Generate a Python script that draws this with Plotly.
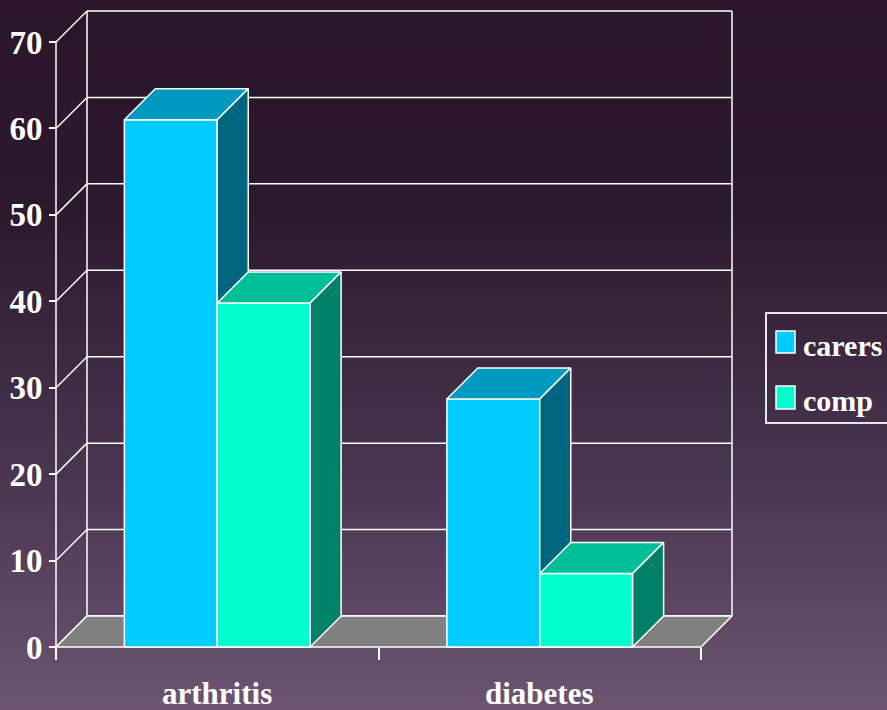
import base64
import struct
import zlib

import plotly.graph_objects as go

# ---------------- data ----------------
categories = ["arthritis", "diabetes"]
series_names = ["carers", "comp"]
carers = [61.0, 28.7]
comp = [39.8, 8.5]
y_ticks = [0, 10, 20, 30, 40, 50, 60, 70]

# ---------------- style ----------------
W, H = 887, 710
FONT = "Liberation Serif"
front_col = {"carers": "#00ccff", "comp": "#00ffcc"}
top_col = {"carers": "#0099c0", "comp": "#00bf99"}
side_col = {"carers": "#00667f", "comp": "#008066"}
floor_col = "#808080"
edge = "white"

# pixel geometry of the pseudo-3D frame
px_left, px_right_front, px_zero, px_top_front = 56, 701, 647, 42
depth_px = 31
ymax = y_ticks[-1]
ncat = len(categories)
px_per_x = (px_right_front - px_left) / ncat
px_per_y = (px_zero - px_top_front) / ymax
dx = depth_px / px_per_x
dy = depth_px / px_per_y
bar_w = 0.288
pad = 4

x_lo = -0.5 - pad / px_per_x
x_hi = ncat - 0.5 + dx + pad / px_per_x
y_lo = -pad / px_per_y
y_hi = ymax + dy + pad / px_per_y
dom_x = [(px_left - pad) / W, (px_left + ncat * px_per_x + depth_px + pad) / W]
dom_y = [(H - (px_zero + pad)) / H, (H - (px_top_front - depth_px - pad)) / H]


# ---------------- background gradient (PNG) ----------------
def grad_png(h, stops):
    def col(t):
        for (t0, c0), (t1, c1) in zip(stops, stops[1:]):
            if t <= t1:
                f = (t - t0) / (t1 - t0) if t1 > t0 else 0
                return bytes(int(round(a + (b - a) * f)) for a, b in zip(c0, c1))
        return bytes(stops[-1][1])

    raw = b"".join(b"\x00" + col(i / (h - 1)) for i in range(h))

    def chunk(tag, data):
        return (struct.pack(">I", len(data)) + tag + data
                + struct.pack(">I", zlib.crc32(tag + data) & 0xFFFFFFFF))

    png = (b"\x89PNG\r\n\x1a\n"
           + chunk(b"IHDR", struct.pack(">IIBBBBB", 1, h, 8, 2, 0, 0, 0))
           + chunk(b"IDAT", zlib.compress(raw, 9))
           + chunk(b"IEND", b""))
    return "data:image/png;base64," + base64.b64encode(png).decode()


bg_src = grad_png(H, [(0.0, (42, 21, 41)), (0.30, (45, 25, 46)),
                      (0.68, (75, 54, 81)), (1.0, (107, 85, 112))])

fig = go.Figure()

# ---------------- frame lines ----------------
lx, ly = [], []
x_left, x_right = -0.5, ncat - 0.5
for v in y_ticks:
    # back-wall gridline
    lx += [x_left + dx, x_right + dx, None]
    ly += [v + dy, v + dy, None]
    # side diagonal
    lx += [x_left, x_left + dx, None]
    ly += [v, v + dy, None]
# back wall verticals
lx += [x_left + dx, x_left + dx, None, x_right + dx, x_right + dx, None]
ly += [dy, ymax + dy, None, dy, ymax + dy, None]
# front axis
lx += [x_left, x_left, None]
ly += [0, ymax, None]
fig.add_trace(go.Scatter(x=lx, y=ly, mode="lines",
                         line=dict(color=edge, width=1.5),
                         hoverinfo="skip", showlegend=False))

# ---------------- floor ----------------
fig.add_trace(go.Scatter(
    x=[x_left, x_right, x_right + dx, x_left + dx, x_left],
    y=[0, 0, dy, dy, 0], mode="lines", fill="toself",
    fillcolor=floor_col, line=dict(color=edge, width=1.5),
    hoverinfo="skip", showlegend=False))


# ---------------- bars ----------------
def add_face(xs, ys, color):
    fig.add_trace(go.Scatter(
        x=xs + [xs[0]], y=ys + [ys[0]], mode="lines", fill="toself",
        fillcolor=color, line=dict(color=edge, width=1.5),
        hoverinfo="skip", showlegend=False))


series = {"carers": carers, "comp": comp}
for i in range(ncat):
    for j, name in enumerate(series_names):
        h = series[name][i]
        x0 = i - bar_w + j * bar_w
        x1 = x0 + bar_w
        add_face([x0, x1, x1, x0], [0, 0, h, h], front_col[name])
        add_face([x0, x1, x1 + dx, x0 + dx], [h, h, h + dy, h + dy], top_col[name])
        add_face([x1, x1 + dx, x1 + dx, x1], [0, dy, h + dy, h], side_col[name])

# ---------------- category labels ----------------
annotations = []
for i, c in enumerate(categories):
    annotations.append(dict(x=i, xref="x", y=(H - 693) / H, yref="paper",
                            text=c, showarrow=False, xanchor="center",
                            yanchor="middle",
                            font=dict(family=FONT, size=31, color="white",
                                      weight="bold")))

# ---------------- custom legend ----------------
shapes = [dict(type="rect", xref="paper", yref="paper",
               x0=766 / W, x1=1.02, y0=(H - 423) / H, y1=(H - 313) / H,
               line=dict(color="#e8e4ea", width=2), fillcolor="rgba(0,0,0,0)")]
leg_rows = [(331, 353, 345), (386, 409, 400)]
for name, (t, b, cy) in zip(series_names, leg_rows):
    shapes.append(dict(type="rect", xref="paper", yref="paper",
                       x0=776 / W, x1=795 / W, y0=(H - b) / H, y1=(H - t) / H,
                       line=dict(color=edge, width=1.5),
                       fillcolor=front_col[name]))
    annotations.append(dict(x=801 / W, xref="paper", y=(H - cy) / H,
                            yref="paper", text=name, showarrow=False,
                            xanchor="left", yanchor="middle",
                            font=dict(family=FONT, size=30, color="white",
                                      weight="bold")))

fig.update_layout(
    width=W, height=H,
    margin=dict(l=0, r=0, t=0, b=0, autoexpand=False),
    paper_bgcolor="#2a1529",
    plot_bgcolor="rgba(0,0,0,0)",
    showlegend=False,
    images=[dict(source=bg_src, xref="paper", yref="paper", x=0, y=1,
                 sizex=1, sizey=1, sizing="stretch", layer="below",
                 xanchor="left", yanchor="top")],
    xaxis=dict(domain=dom_x, range=[x_lo, x_hi], anchor="free",
               position=(H - px_zero) / H, automargin=False,
               tickvals=[k - 0.5 for k in range(ncat + 1)],
               ticktext=[""] * (ncat + 1),
               ticks="outside", ticklen=12, tickwidth=2, tickcolor=edge,
               showgrid=False, zeroline=False, showline=False,
               fixedrange=True),
    yaxis=dict(domain=dom_y, range=[y_lo, y_hi], anchor="free",
               position=px_left / W, automargin=False,
               tickvals=y_ticks, ticks="outside", ticklen=7, tickwidth=2,
               tickcolor=edge,
               tickfont=dict(family=FONT, size=33, color="white",
                             weight="bold"),
               showgrid=False, zeroline=False, showline=False,
               fixedrange=True),
    shapes=shapes,
    annotations=annotations,
)

fig.write_html("out.html")
